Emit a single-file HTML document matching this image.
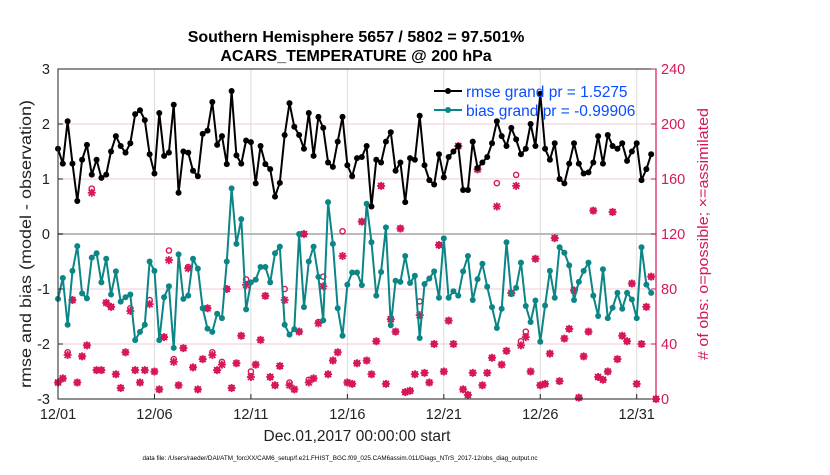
<!DOCTYPE html>
<html><head><meta charset="utf-8"><style>
body{margin:0;background:#fff;}
svg text{font-family:"Liberation Sans",Arial,sans-serif;}
</style></head><body>
<svg id="chart" width="830" height="470" viewBox="0 0 830 470" xmlns="http://www.w3.org/2000/svg">
<text x="356" y="42" font-size="16" font-weight="bold" text-anchor="middle" fill="#000">Southern Hemisphere 5657 / 5802 = 97.501%</text>
<text x="356" y="61" font-size="16" font-weight="bold" text-anchor="middle" fill="#000">ACARS_TEMPERATURE @ 200 hPa</text>
<g id="grid"></g>
<g id="marks"></g>
<g id="axes"></g>
<text transform="translate(31,244) rotate(-90)" font-size="16" text-anchor="middle" textLength="288" lengthAdjust="spacingAndGlyphs" fill="#222">rmse and bias (model - observation)</text>
<text transform="translate(708,234) rotate(-90)" font-size="15" text-anchor="middle" textLength="252" lengthAdjust="spacingAndGlyphs" fill="#d6175a"># of obs: o=possible; ×=assimilated</text>
<text x="357" y="441" font-size="15.5" text-anchor="middle" fill="#222">Dec.01,2017 00:00:00 start</text>
<text x="340" y="460" font-size="6.3" text-anchor="middle" fill="#000">data file: /Users/raeder/DAI/ATM_forcXX/CAM6_setup/f.e21.FHIST_BGC.f09_025.CAM6assim.011/Diags_NTrS_2017-12/obs_diag_output.nc</text>
<g>
<line x1="434" y1="91" x2="462" y2="91" stroke="#000" stroke-width="2"/>
<circle cx="448" cy="91" r="3" fill="#000"/>
<text x="466" y="97" font-size="15.5" fill="#0a4cff">rmse grand pr = 1.5275</text>
<line x1="434" y1="110" x2="462" y2="110" stroke="#0b8585" stroke-width="2"/>
<circle cx="448" cy="110" r="3" fill="#0b8585"/>
<text x="466" y="116" font-size="15.5" fill="#0a4cff">bias grand pr = -0.99906</text>
</g>
</svg>
<script>
const rmse=[1.55,1.28,2.05,1.28,0.6,1.35,1.62,1.08,1.35,1.02,1.08,1.5,1.78,1.6,1.48,1.65,2.18,2.25,2.07,1.45,1.1,2.2,1.42,1.48,2.35,0.75,1.5,1.48,1.15,1.05,1.82,1.88,2.4,1.62,1.78,1.27,2.6,1.43,1.28,1.7,1.67,0.92,1.6,1.27,1.18,0.68,0.93,1.8,2.38,1.95,1.8,1.55,2.2,1.42,2.13,1.93,1.3,1.22,1.68,2.13,1.25,1.05,1.38,
1.4,1.6,0.5,1.35,1.3,1.68,1.85,1.15,1.3,0.58,1.38,1.35,2.15,1.25,0.98,0.9,1.45,1.03,1.4,1.5,1.6,0.8,0.8,1.68,1.2,1.3,1.4,1.65,2.05,1.78,1.6,1.93,1.72,1.45,1.55,2.0,1.6,2.55,1.55,1.35,1.65,1.0,0.92,1.28,1.65,1.28,1.1,1.12,1.3,1.78,1.28,1.8,1.6,1.55,1.65,1.33,1.5,1.65,0.98,1.18,1.45];
const bias=[-1.18,-0.8,-1.65,-0.67,-0.22,-1.08,-1.17,-0.43,-0.35,-0.88,-0.45,-1.1,-0.68,-1.23,-1.15,-1.1,-1.93,-1.78,-1.65,-0.5,-0.67,-1.93,-1.15,-0.95,-2.07,-0.37,-1.18,-1.12,-0.45,-0.63,-1.35,-1.72,-1.78,-1.45,-1.53,-0.5,0.83,-0.18,0.27,-1.37,-0.88,-0.83,-0.6,-0.6,-0.88,-0.35,-0.23,-1.65,-1.83,-1.73,0.0,-1.33,-0.5,-0.23,-0.78,-1.57,0.58,-0.18,-1.35,-1.85,-0.92,-0.7,-0.7,
-0.93,0.55,-0.15,-1.12,-0.69,0.12,-1.66,-0.85,-0.87,-0.4,-0.89,-0.76,-1.89,-0.91,-0.81,-0.68,-1.16,-0.08,-1.16,-1.04,-1.12,-0.68,-0.4,-1.2,-0.82,-0.54,-0.96,-1.33,-1.71,-1.36,-0.15,-1.09,-0.98,-0.52,-1.31,-1.6,-1.21,-1.96,-1.3,-0.67,-1.16,-0.24,-0.34,-0.57,-1.2,-0.87,-0.67,-0.52,-1.12,-1.49,-0.64,-1.53,-1.34,-1.07,-1.36,-1.07,-1.19,-1.53,-0.24,-0.92,-1.07];
const assimilated=[12,15,32,72,12,31,39,150,21,21,70,67,18,8,34,64,21,12,21,69,20,7,45,101,27,10,37,95,23,7,29,66,32,21,25,80,8,26,46,83,16,25,43,75,16,10,24,72,10,7,49,120,12,15,55,82,18,28,34,104,12,11,26,
129,28,18,42,155,11,58,49,124,5,6,18,61,19,12,40,112,20,57,40,184,7,3,19,167,10,19,30,140,25,35,77,155,39,45,20,102,10,11,33,117,13,44,51,79,1,31,49,137,16,14,20,136,29,46,42,84,11,40,67,89,0];
const possible=[12,15,34,72,12,31,39,153,21,21,70,67,18,8,34,66,21,12,21,72,20,7,45,108,29,10,37,96,23,7,29,66,34,21,27,80,8,26,46,87,20,25,43,75,16,10,24,80,12,7,49,120,14,15,56,89,18,28,34,122,12,11,26,
129,28,18,42,155,11,58,49,124,5,6,18,71,19,12,40,112,20,57,40,184,7,3,19,167,10,19,30,157,25,35,77,163,42,49,20,102,10,11,33,117,13,44,51,79,1,31,49,137,16,14,20,136,29,46,42,84,11,40,67,89,0];
const xTickLabels=["12/01","12/06","12/11","12/16","12/21","12/26","12/31"];
const xTickDays=[0,5,10,15,20,25,30];
const yLeftTicks=[-3,-2,-1,0,1,2,3];
const yRightTicks=[0,40,80,120,160,200,240];

const NS="http://www.w3.org/2000/svg";
const L=58,R=656,T=69,B=399,DAYS=31;
const xDay=d=>L+(d/DAYS)*(R-L);
const xIdx=i=>xDay(i*0.25);
const yL=v=>B-(v+3)/6*(B-T);
const yR=c=>B-c/240*(B-T);
function mk(tag,attrs,parent){const e=document.createElementNS(NS,tag);for(const k in attrs)e.setAttribute(k,attrs[k]);parent.appendChild(e);return e;}
const grid=document.getElementById('grid'),marks=document.getElementById('marks'),axes=document.getElementById('axes');
mk('rect',{x:L,y:T,width:R-L,height:B-T,fill:'#fff'},grid);
xTickDays.forEach(d=>{const l=mk('line',{x1:xDay(d),y1:T,x2:xDay(d),y2:B,stroke:'#dcdcdc','stroke-width':1},grid);});
yRightTicks.forEach(c=>{if(c>0&&c<240){const l=mk('line',{x1:L,y1:yR(c),x2:R,y2:yR(c),stroke:'#f3c9d8','stroke-width':1},grid);}});
const z=mk('line',{x1:L,y1:yL(0),x2:R,y2:yL(0),stroke:'#bbbbbb','stroke-width':2},grid);


possible.forEach((c,i)=>{const e=mk('circle',{cx:xIdx(i),cy:yR(c),r:2.6,fill:'none',stroke:'#d6175a','stroke-width':1.4},marks);});
assimilated.forEach((c,i)=>{const x=xIdx(i),y=yR(c);const g=mk('g',{},marks);
mk('path',{d:`M${x-4},${y}H${x+4}M${x},${y-4}V${y+4}M${x-3},${y-3}L${x+3},${y+3}M${x-3},${y+3}L${x+3},${y-3}`,stroke:'#d6175a','stroke-width':1.8},g);});
function series(arr,color,name){
 const d=arr.map((v,i)=>(i?'L':'M')+xIdx(i).toFixed(1)+','+yL(v).toFixed(1)).join('');
 const p=mk('path',{d:d,fill:'none',stroke:color,'stroke-width':2,'stroke-linejoin':'round'},marks);
 
 
 arr.forEach((v,i)=>{const c=mk('circle',{cx:xIdx(i),cy:yL(v),r:3,fill:color},marks);});
}
series(bias,'#0b8585','bias');
series(rmse,'#000000','rmse');
mk('rect',{x:L,y:T,width:R-L,height:B-T,fill:'none',stroke:'#222','stroke-width':1},axes);
mk('line',{x1:R,y1:T,x2:R,y2:B,stroke:'#d6175a','stroke-width':1.2},axes);
xTickDays.forEach((d,i)=>{mk('line',{x1:xDay(d),y1:B,x2:xDay(d),y2:B-5,stroke:'#222'},axes);
 const t=mk('text',{x:xDay(d),y:B+20,'font-size':14.5,'text-anchor':'middle',fill:'#222'},axes);t.textContent=xTickLabels[i];
 });
yLeftTicks.forEach(v=>{mk('line',{x1:L,y1:yL(v),x2:L+5,y2:yL(v),stroke:'#222'},axes);
 const t=mk('text',{x:L-8,y:yL(v)+5,'font-size':14.5,'text-anchor':'end',fill:'#222'},axes);t.textContent=v;
 });
yRightTicks.forEach(c=>{mk('line',{x1:R,y1:yR(c),x2:R-5,y2:yR(c),stroke:'#d6175a'},axes);
 const t=mk('text',{x:R+5,y:yR(c)+5,'font-size':14.5,'text-anchor':'start',fill:'#d6175a'},axes);t.textContent=c;
 });
</script>
</body></html>
